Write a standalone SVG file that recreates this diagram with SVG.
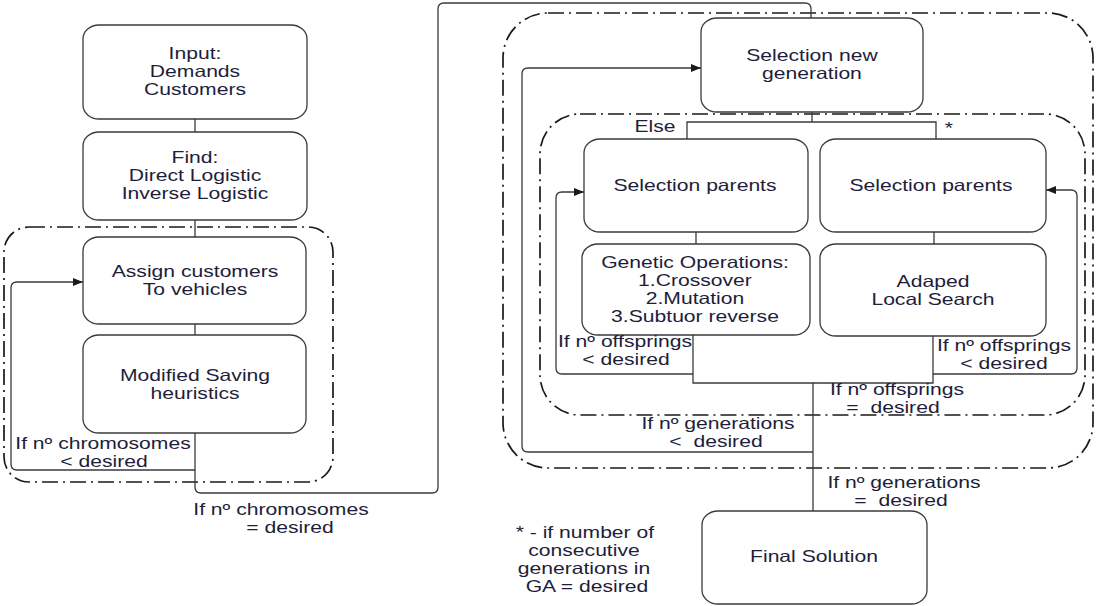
<svg xmlns="http://www.w3.org/2000/svg" width="1097" height="606" viewBox="0 0 1097 606">
  <style>
    .node { fill: #ffffff; stroke: #3a3a3a; stroke-width: 1.3; }
    .zone { fill: none; stroke: #1a1a1a; stroke-width: 1.7; stroke-dasharray: 16 5 2 5; }
    .wire { fill: none; stroke: #3a3a3a; stroke-width: 1.3; }
    .t { font-family: "Liberation Sans", Arial, sans-serif; font-size: 16.5px; fill: #1e1e3a; text-anchor: middle;
         transform: scaleX(1.28); transform-box: fill-box; transform-origin: center; }
  </style>
  <defs>
    <marker id="arrow" markerWidth="10" markerHeight="8" refX="10" refY="4" orient="auto" markerUnits="userSpaceOnUse">
      <path d="M0,0 L10,4 L0,8 z" fill="#1a1a1a"/>
    </marker>
  </defs>

  <rect width="1097" height="606" fill="#ffffff"/>

  <!-- dash-dot grouping frames -->
  <g id="frames">
    <rect class="zone" x="4" y="227" width="329" height="255" rx="25" ry="25"/>
    <rect class="zone" x="503" y="13" width="590" height="455" rx="45" ry="45"/>
    <rect class="zone" x="540" y="114" width="545" height="301" rx="40" ry="40"/>
  </g>

  <!-- connectors -->
  <g id="connectors">
    <!-- left column chain -->
    <path class="wire" d="M195,119 V132"/>
    <path class="wire" d="M195,220 V237"/>
    <path class="wire" d="M195,324 V335"/>
    <!-- chromosomes < desired: back to assignment -->
    <path class="wire" d="M195,470 H17 Q11,470 11,464 V288 Q11,282 17,282 H83" marker-end="url(#arrow)"/>
    <!-- chromosomes = desired: on to the GA block -->
    <path class="wire" d="M195,433 V487 Q195,493 201,493 H432 Q438,493 438,487 V9 Q438,3 444,3 H805 Q811,3 811,9 V18"/>
    <!-- Else / * split -->
    <path class="wire" d="M812,112 V122"/>
    <path class="wire" d="M687,139 V122 H936 V139"/>
    <!-- parents to operators -->
    <path class="wire" d="M696,232 V244"/>
    <path class="wire" d="M934,232 V244"/>
    <!-- merge of both branches -->
    <path class="wire" d="M693,335 V383 H933 V336"/>
    <!-- offsprings < desired loops -->
    <path class="wire" d="M693,374 H562 Q556,374 556,368 V198 Q556,192 562,192 H584" marker-end="url(#arrow)"/>
    <path class="wire" d="M933,374 H1071 Q1077,374 1077,368 V196 Q1077,190 1071,190 H1046" marker-end="url(#arrow)"/>
    <!-- generations check -->
    <path class="wire" d="M813,383 V511"/>
    <path class="wire" d="M813,452 H528 Q522,452 522,446 V74 Q522,68 528,68 H701" marker-end="url(#arrow)"/>
  </g>

  <!-- nodes -->
  <g id="n-input">
    <rect class="node" x="83" y="25" width="224" height="94" rx="16" ry="14"/>
    <text class="t" x="195" y="59">Input:</text>
    <text class="t" x="195" y="77">Demands</text>
    <text class="t" x="195" y="95">Customers</text>
  </g>
  <g id="n-find">
    <rect class="node" x="83" y="132" width="224" height="88" rx="16" ry="14"/>
    <text class="t" x="195" y="163">Find:</text>
    <text class="t" x="195" y="181">Direct Logistic</text>
    <text class="t" x="195" y="199">Inverse Logistic</text>
  </g>
  <g id="n-assign">
    <rect class="node" x="83" y="237" width="223" height="87" rx="16" ry="14"/>
    <text class="t" x="195" y="277">Assign customers</text>
    <text class="t" x="195" y="295">To vehicles</text>
  </g>
  <g id="n-saving">
    <rect class="node" x="83" y="335" width="223" height="98" rx="16" ry="14"/>
    <text class="t" x="195" y="381">Modified Saving</text>
    <text class="t" x="195" y="399">heuristics</text>
  </g>
  <g id="n-selection-generation">
    <rect class="node" x="701" y="18" width="222" height="94" rx="16" ry="14"/>
    <text class="t" x="812" y="61">Selection new</text>
    <text class="t" x="812" y="79">generation</text>
  </g>
  <g id="n-parents-ga">
    <rect class="node" x="584" y="139" width="224" height="93" rx="16" ry="14"/>
    <text class="t" x="695" y="191">Selection parents</text>
  </g>
  <g id="n-parents-ls">
    <rect class="node" x="820" y="139" width="226" height="93" rx="16" ry="14"/>
    <text class="t" x="931" y="191">Selection parents</text>
  </g>
  <g id="n-genetic-ops">
    <rect class="node" x="582" y="244" width="228" height="91" rx="16" ry="14"/>
    <text class="t" x="695" y="268">Genetic Operations:</text>
    <text class="t" x="695" y="286">1.Crossover</text>
    <text class="t" x="695" y="304">2.Mutation</text>
    <text class="t" x="695" y="322">3.Subtuor reverse</text>
  </g>
  <g id="n-local-search">
    <rect class="node" x="820" y="244" width="226" height="92" rx="16" ry="14"/>
    <text class="t" x="933" y="287">Adaped</text>
    <text class="t" x="933" y="305">Local Search</text>
  </g>
  <g id="n-final">
    <rect class="node" x="702" y="511" width="225" height="93" rx="16" ry="14"/>
    <text class="t" x="814" y="562">Final Solution</text>
  </g>

  <!-- condition labels -->
  <g id="labels">
    <text class="t" x="103" y="449">If nº chromosomes</text>
    <text class="t" x="104" y="467">&lt; desired</text>
    <text class="t" x="281" y="515">If nº chromosomes</text>
    <text class="t" x="290" y="533">= desired</text>
    <text class="t" x="655" y="132">Else</text>
    <text class="t" x="949" y="134">*</text>
    <text class="t" x="625" y="347">If nº offsprings</text>
    <text class="t" x="626" y="365">&lt; desired</text>
    <text class="t" x="1004" y="351">If nº offsprings</text>
    <text class="t" x="1004" y="369">&lt; desired</text>
    <text class="t" x="897" y="395">If nº offsprings</text>
    <text class="t" x="893" y="413" xml:space="preserve">=  desired</text>
    <text class="t" x="718" y="429">If nº generations</text>
    <text class="t" x="716" y="447" xml:space="preserve">&lt;  desired</text>
    <text class="t" x="904" y="488">If nº generations</text>
    <text class="t" x="901" y="506" xml:space="preserve">=  desired</text>
    <text class="t" x="585" y="538">* - if number of</text>
    <text class="t" x="584" y="556">consecutive</text>
    <text class="t" x="584" y="574">generations in</text>
    <text class="t" x="587" y="592">GA = desired</text>
  </g>
</svg>
